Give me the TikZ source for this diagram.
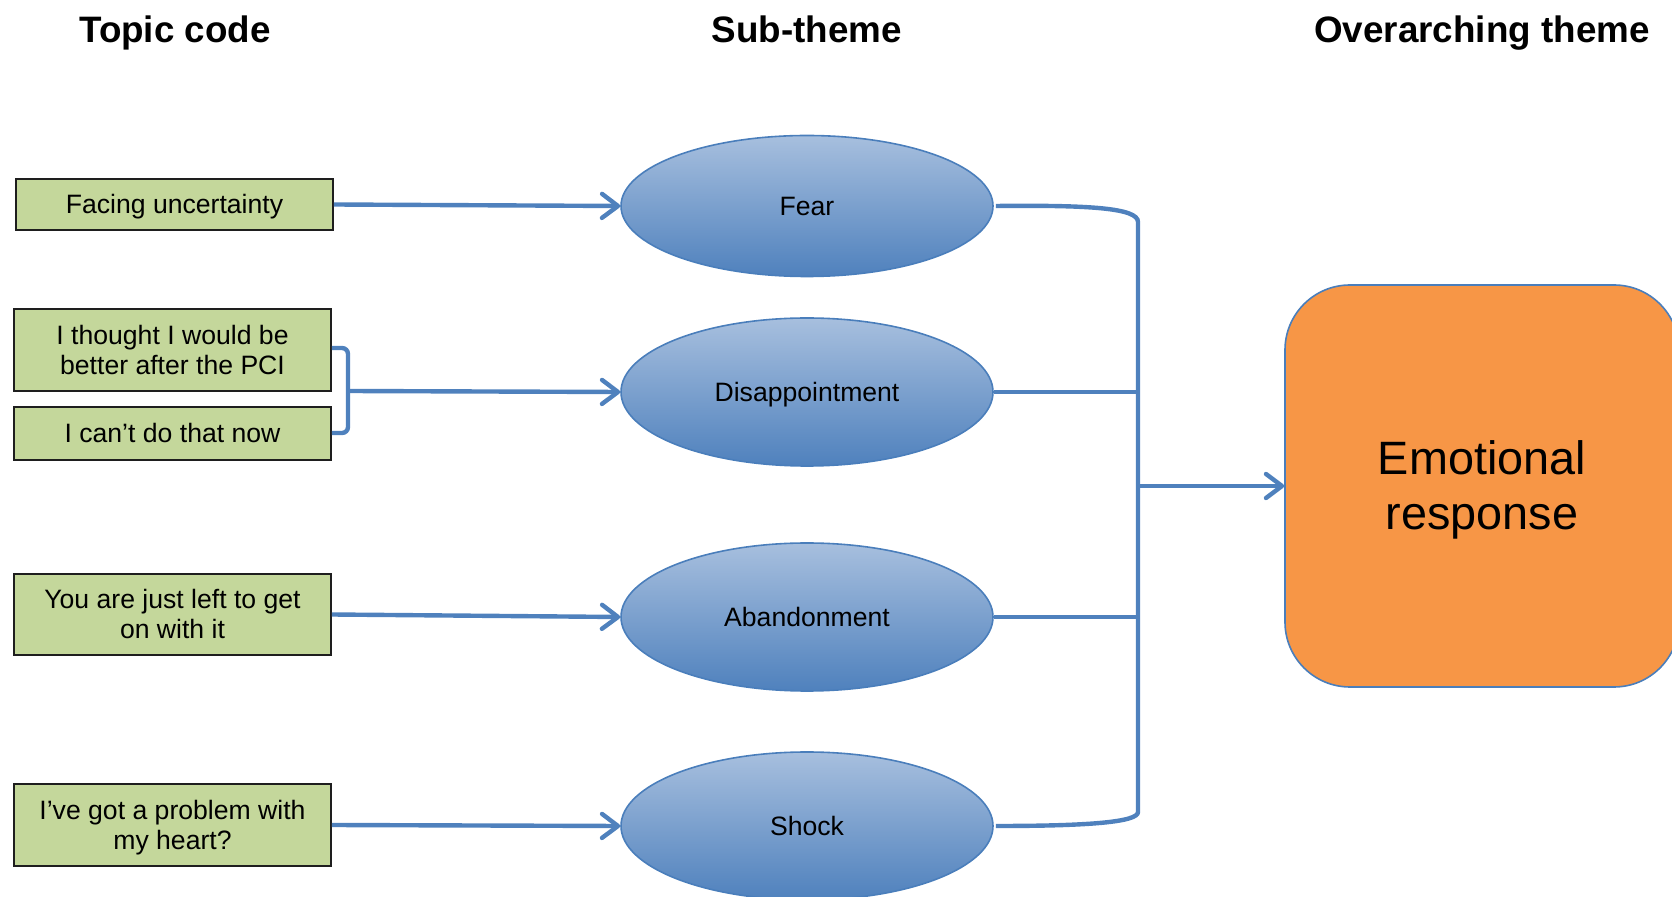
\documentclass[tikz,border=0pt]{standalone}
\usepackage{fontspec}
\setmainfont{Liberation Sans}
\usetikzlibrary{arrows.meta,shapes.geometric}

\definecolor{linkblue}{RGB}{79,129,189}
\definecolor{ovalline}{RGB}{74,126,187}
\definecolor{ovaltop}{RGB}{167,191,222}
\definecolor{ovalbot}{RGB}{79,129,189}
\definecolor{codegreen}{RGB}{196,215,155}
\definecolor{codeline}{RGB}{30,30,30}
\definecolor{themeorange}{RGB}{247,150,70}

% full line height (ascent + descent) so every line is centred the same way
\newcommand{\lineprop}{\rule[-0.212em]{0pt}{1.117em}}

\tikzset{
  heading/.style={anchor=base, font=\fontsize{18.4}{22}\selectfont\bfseries},
  codebox/.style={draw=codeline, line width=0.9pt, fill=codegreen, rectangle,
    minimum width=158.5pt, align=center, inner sep=0pt,
    font=\fontsize{13.3}{15}\selectfont},
  subtheme/.style={ellipse, draw=ovalline, line width=0.8pt,
    top color=ovaltop, bottom color=ovalbot, minimum width=186pt,
    inner sep=0pt, font=\fontsize{13.3}{15}\selectfont},
  maintheme/.style={rectangle, rounded corners=32.5pt, draw=ovalline, line width=0.8pt,
    fill=themeorange, minimum width=197pt, minimum height=201pt, align=center,
    font=\fontsize{23.4}{27.5}\selectfont},
  conn/.style={draw=linkblue, line width=2.2pt},
  arr/.style={conn, -{Straight Barb[length=8pt,width=12pt,line cap=round,line join=round]}},
}

\begin{document}
\begin{tikzpicture}[x=0.5pt,y=-0.5pt]
  \useasboundingbox (0,0) rectangle (1672,897);

  % column headings
  \node[heading] (h1) at (175,43) {Topic code};
  \node[heading] (h2) at (807,43) {Sub-theme};
  \node[heading] (h3) at (1482,43) {Overarching theme};

  % topic codes
  \node[codebox, minimum height=25.5pt] (c1) at (174.5,204.5) {\lineprop Facing uncertainty};
  \node[codebox, minimum height=41pt] (c2) at (172.5,350) {\lineprop I thought I would be\\\lineprop better after the PCI};
  \node[codebox, minimum height=26.5pt] (c3) at (172.5,433.5) {\lineprop I can’t do that now};
  \node[codebox, minimum height=40.5pt] (c4) at (172.5,614.5) {\lineprop You are just left to get\\\lineprop on with it};
  \node[codebox, minimum height=41pt] (c5) at (172.5,825) {\lineprop I’ve got a problem with\\\lineprop my heart?};

  % sub-themes
  \node[subtheme, minimum height=70.5pt] (fear) at (807,206) {\lineprop Fear};
  \node[subtheme, minimum height=74pt] (disap) at (807,392) {\lineprop Disappointment};
  \node[subtheme, minimum height=74pt] (aband) at (807,617) {\lineprop Abandonment};
  \node[subtheme, minimum height=74pt] (shock) at (807,826) {\lineprop Shock};

  % overarching theme
  \node[maintheme] (emo) at (1482,486) {\lineprop Emotional\\\lineprop response};

  % topic codes to sub-themes
  \draw[arr] (c1.east) -- (fear.west);
  \coordinate (brkTop) at (348,348);
  \coordinate (brkMid) at (348,391);
  \coordinate (brkBot) at (348,433);
  \draw[conn, rounded corners=3pt] (c2.east |- brkTop) -- (brkTop) -- (brkBot) -- (c3.east |- brkBot);
  \draw[arr] (brkMid) -- (disap.west);
  \draw[arr] (c4.east) -- (aband.west);
  \draw[arr] (c5.east) -- (shock.west);

  % sub-themes gathered into the overarching theme
  \coordinate (busTop) at (1138,222);
  \coordinate (busBot) at (1138,812);
  \coordinate (busMid) at (1138,486);
  \draw[conn] ([xshift=1pt]fear.east) .. controls (1090,205) and (1138,208) .. (busTop)
    -- (busBot) .. controls (1138,822) and (1090,826) .. ([xshift=1pt]shock.east);
  \draw[conn] (disap.east) -- (disap.east -| busTop);
  \draw[conn] (aband.east) -- (aband.east -| busTop);
  \draw[arr] (busMid) -- (emo.west);
\end{tikzpicture}
\end{document}
